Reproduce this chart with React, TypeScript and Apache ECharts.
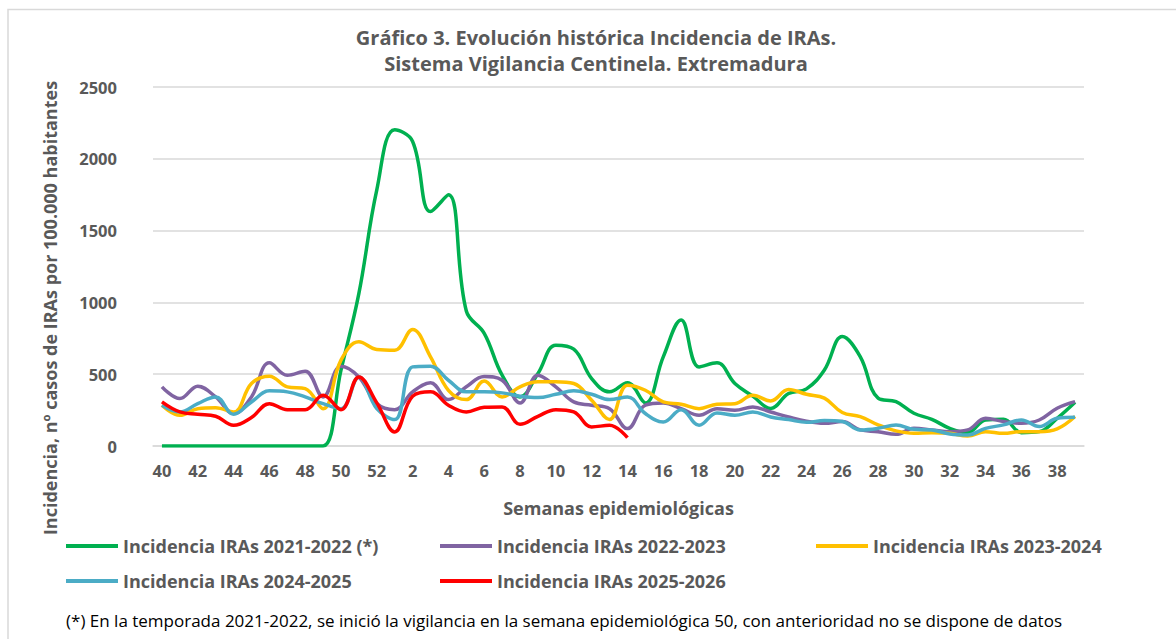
import React, { useEffect, useRef } from "react";
import * as echarts from "echarts";

const weeks: string[] = [
  "40","41","42","43","44","45","46","47","48","49","50","51","52",
  "1","2","3","4","5","6","7","8","9","10","11","12","13","14","15","16","17","18","19","20",
  "21","22","23","24","25","26","27","28","29","30","31","32","33","34","35","36","37","38","39",
];

const s2122: (number | null)[] = [
  0,0,0,0,0,0,0,0,0,0,528,1063,1784,
  2202,2121,1633,1749,940,785,
  493,342,505,702,675,470,377,440,300,621,877,551,579,435,347,262,365,398,
  530,763,623,333,309,228,186,123,93,181,186,93,100,193,305,
];
const s2223: (number | null)[] = [
  412,330,416,342,226,342,579,493,521,342,556,481,295,
  253,377,440,323,412,484,
  458,300,493,412,307,284,260,121,284,300,260,214,260,249,272,237,202,172,
  158,170,112,100,81,123,112,100,112,193,170,158,181,263,309,
];
const s2324: (number | null)[] = [
  284,214,260,267,237,435,486,412,400,260,598,726,672,
  667,812,621,388,323,452,
  342,412,447,447,435,319,184,423,388,307,291,260,291,295,353,314,393,360,
  333,233,205,147,105,88,93,88,70,100,88,100,100,119,205,
];
const s2425: (number | null)[] = [
  284,237,295,342,221,307,384,377,342,295,260,481,260,
  184,551,556,458,377,377,
  370,347,337,360,384,360,323,342,226,167,253,144,230,214,237,202,184,165,
  177,170,112,123,147,116,112,84,77,123,147,181,135,193,200,
];
const s2526: (number | null)[] = [
  307,237,221,207,144,198,295,253,253,353,253,481,300,
  98,347,377,284,237,270,
  272,151,207,253,237,133,144,58,
  null,null,null,null,null,null,null,null,null,null,null,null,null,
  null,null,null,null,null,null,null,null,null,null,null,null,
];

const seriesNames = [
  "Incidencia IRAs 2021-2022 (*)",
  "Incidencia IRAs 2022-2023",
  "Incidencia IRAs 2023-2024",
  "Incidencia IRAs 2024-2025",
  "Incidencia IRAs 2025-2026",
];
const seriesData = [s2122, s2223, s2324, s2425, s2526];
const colors = ["#00B050", "#8064A2", "#FFC000", "#4BACC6", "#FF0000"];

const FONT = "'Open Sans', Lato, sans-serif";
const GRAY = "#595959";

export default function App() {
  const ref = useRef<HTMLDivElement>(null);
  useEffect(() => {
    document.body.style.margin = "0";
    if (!ref.current) return;
    const chart = echarts.init(ref.current, undefined, { renderer: "svg" });
    const legendPos = [
      { left: 66, top: 536 },
      { left: 440, top: 536 },
      { left: 816, top: 536 },
      { left: 66, top: 571 },
      { left: 440, top: 571 },
    ];
    chart.setOption({
      animation: false,
      backgroundColor: "#ffffff",
      textStyle: { fontFamily: FONT },
      title: {
        text: "Gráfico 3. Evolución histórica Incidencia de IRAs.\nSistema Vigilancia Centinela. Extremadura",
        left: 596,
        top: 24,
        padding: 0,
        textAlign: "center",
        textStyle: {
          fontFamily: FONT,
          fontSize: 20,
          fontWeight: "bold",
          color: GRAY,
          lineHeight: 26,
        },
      },
      legend: seriesNames.map((n, i) => ({
        data: [n],
        left: legendPos[i].left,
        top: legendPos[i].top,
        icon: "rect",
        itemWidth: 52,
        itemHeight: 4,
        padding: 0,
        selectedMode: false,
        textStyle: {
          fontFamily: FONT,
          fontSize: 18,
          fontWeight: "bold",
          color: GRAY,
          lineHeight: 20,
        },
      })),
      grid: { left: 153, right: 92, top: 87, bottom: 193, containLabel: false },
      xAxis: {
        type: "category",
        data: weeks,
        boundaryGap: true,
        name: "Semanas epidemiológicas",
        nameLocation: "middle",
        nameGap: 53,
        nameTextStyle: { fontFamily: FONT, fontSize: 18, fontWeight: "bold", color: GRAY },
        axisLine: { show: true, lineStyle: { color: "#d9d9d9", width: 1.5 } },
        axisTick: { show: false },
        axisLabel: {
          interval: 1,
          margin: 16,
          fontFamily: FONT,
          fontSize: 16.5,
          fontWeight: "bold",
          color: GRAY,
        },
      },
      yAxis: {
        type: "value",
        min: 0,
        max: 2500,
        interval: 500,
        axisLine: { show: false },
        axisTick: { show: false },
        splitLine: { lineStyle: { color: "#d9d9d9", width: 1.5 } },
        axisLabel: {
          margin: 36,
          fontFamily: FONT,
          fontSize: 16.5,
          fontWeight: "bold",
          color: GRAY,
          formatter: (v: number) => String(v),
        },
      },
      graphic: [
        {
          type: "rect",
          shape: { x: 8, y: 9.5, width: 1300, height: 800 },
          style: { fill: "none", stroke: "#d9d9d9", lineWidth: 1.5 },
          silent: true,
          z: -1,
        },
        {
          type: "text",
          x: 50,
          y: 308,
          rotation: Math.PI / 2,
          style: {
            text: "Incidencia, nº casos de IRAs por 100.000 habitantes",
            fontFamily: FONT,
            fontSize: 18,
            fontWeight: "bold",
            fill: GRAY,
            textAlign: "center",
            textVerticalAlign: "middle",
          },
        },
        {
          type: "text",
          x: 66,
          y: 620,
          style: {
            text: "(*) En la temporada 2021-2022, se inició la vigilancia en la semana epidemiológica 50, con anterioridad no se dispone de datos",
            fontFamily: FONT,
            fontSize: 17,
            fill: "#000000",
            textAlign: "left",
            textVerticalAlign: "middle",
          },
        },
      ],
      series: seriesNames.map((n, i) => ({
        name: n,
        type: "line",
        data: seriesData[i],
        smooth: 0.4,
        showSymbol: false,
        symbol: "none",
        connectNulls: false,
        lineStyle: { color: colors[i], width: 3.5 },
        itemStyle: { color: colors[i] },
      })),
    });
    return () => chart.dispose();
  }, []);
  return <div ref={ref} style={{ width: 1176, height: 639 }} />;
}
